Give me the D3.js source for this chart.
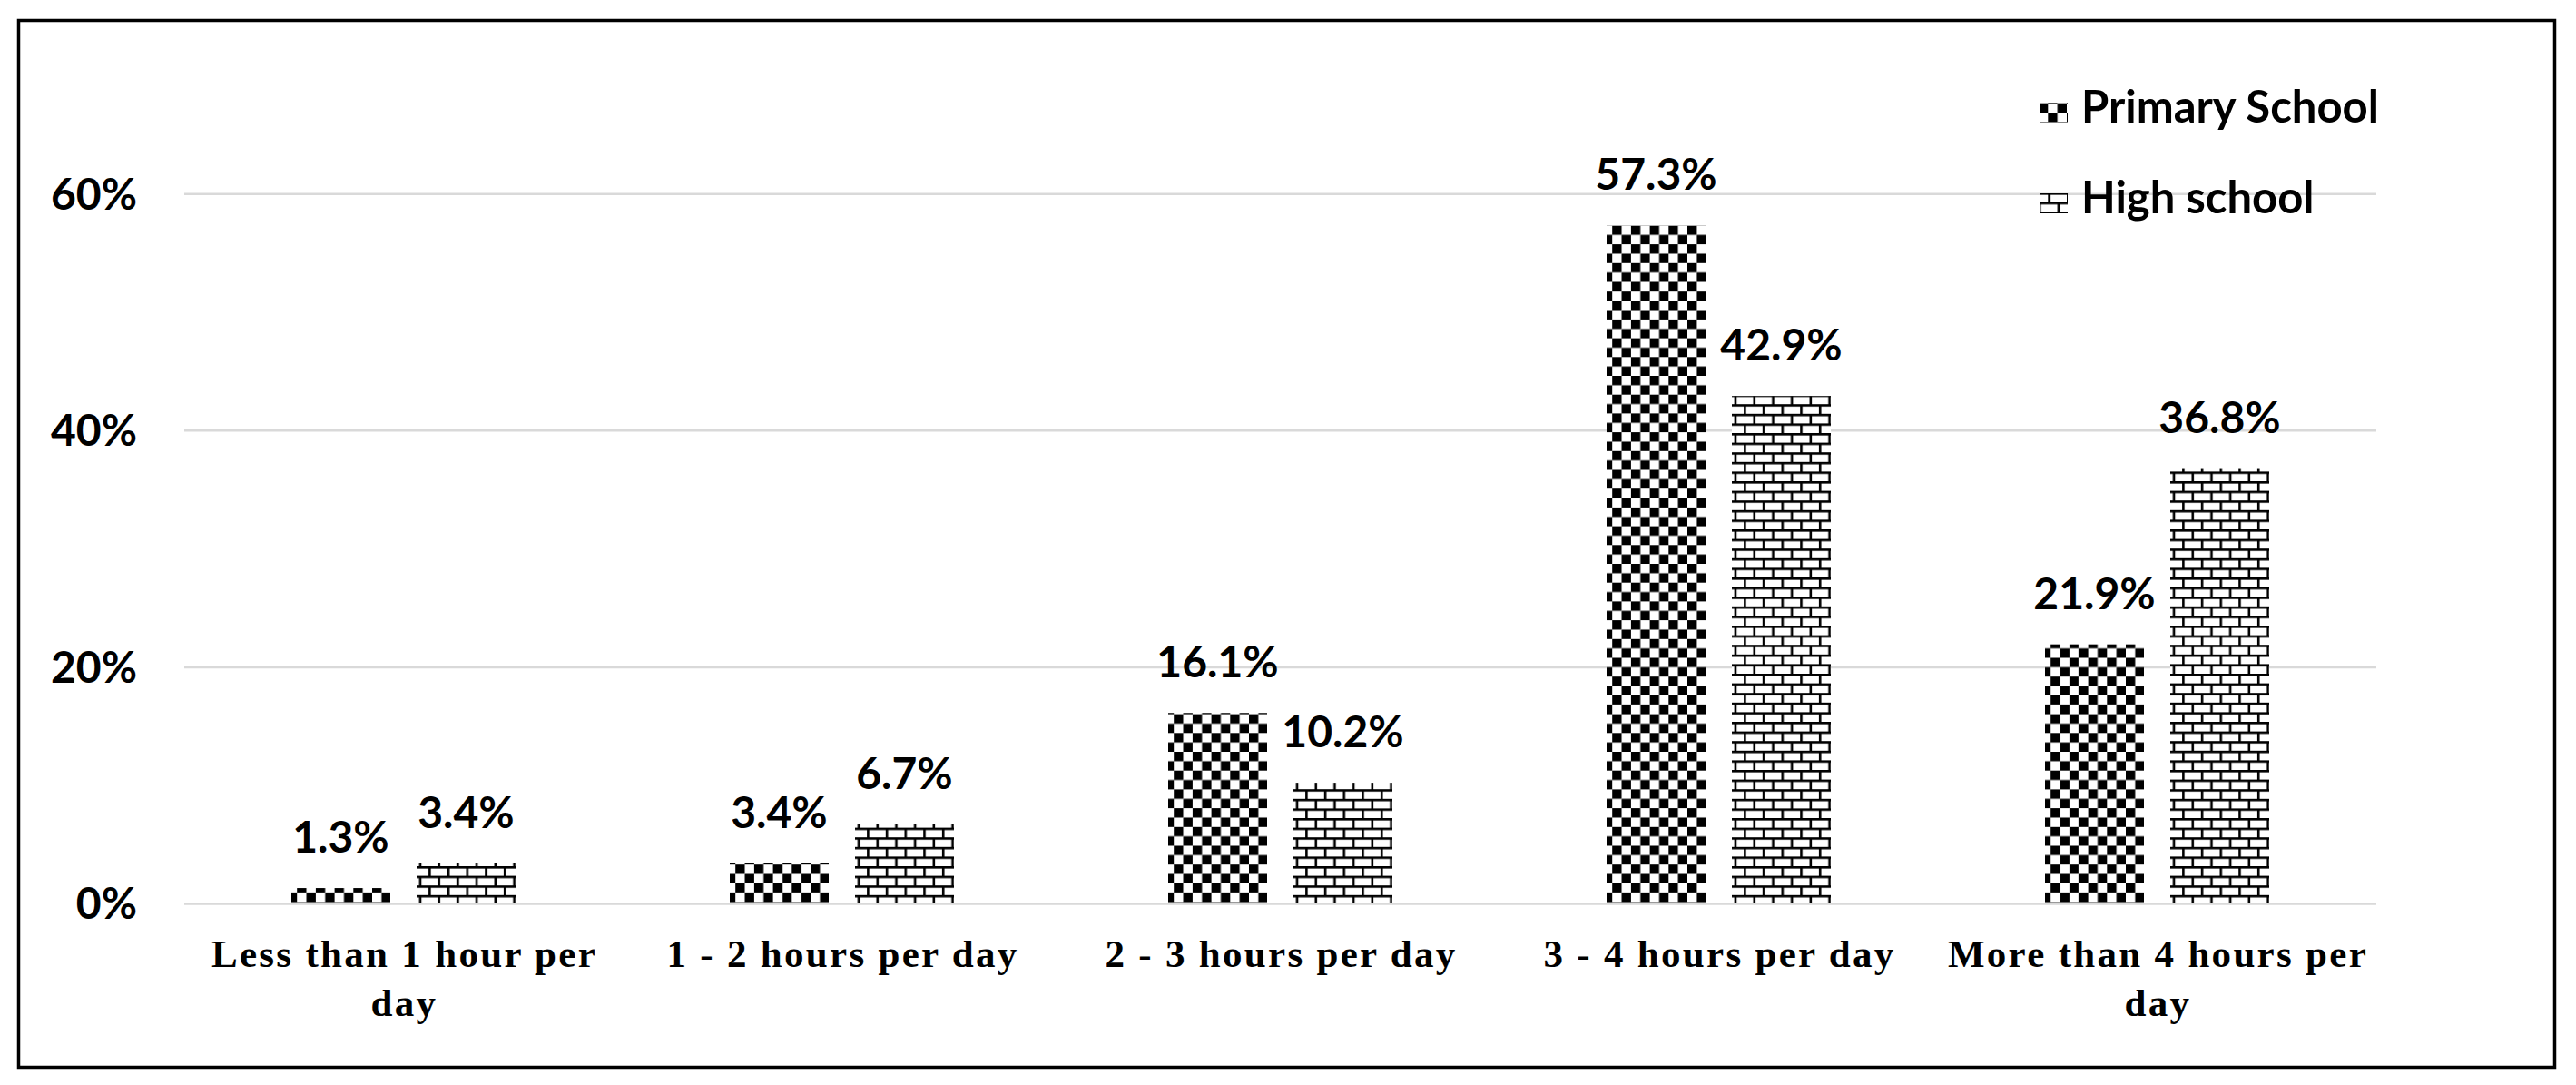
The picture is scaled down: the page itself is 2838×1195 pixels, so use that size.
<!DOCTYPE html>
<html>
<head>
<meta charset="utf-8">
<script src="https://cdn.jsdelivr.net/npm/d3@7"></script>
<style>
  html, body { margin: 0; padding: 0; background: #fff; }
  svg { display: block; }
</style>
</head>
<body>
<svg id="chart" width="2838" height="1195"></svg>
<script>
// ---- data ----
const categories = [
  ["Less than 1 hour per", "day"],
  ["1 - 2 hours per day"],
  ["2 - 3 hours per day"],
  ["3 - 4 hours per day"],
  ["More than 4 hours per", "day"]
];
const seriesNames = ["Primary School", "High school"];
const primaryValues = [1.3, 3.4, 16.1, 57.3, 21.9];
const highValues = [3.4, 6.7, 10.2, 42.9, 36.8];
const yTicks = [0, 20, 40, 60];

// ---- layout ----
const W = 2838, H = 1195;
const plot = { left: 203, right: 2618, top: 213.3, bottom: 995 };
const svg = d3.select("#chart");
svg.append("rect").attr("width", W).attr("height", H).attr("fill", "#fff");

// patterns
const defs = svg.append("defs");
const cs = 10.35;
const checker = defs.append("pattern").attr("id", "checker")
  .attr("patternUnits", "userSpaceOnUse").attr("width", cs * 2).attr("height", cs * 2);
checker.append("rect").attr("width", cs * 2).attr("height", cs * 2).attr("fill", "#fff");
checker.append("rect").attr("x", 0).attr("y", 0).attr("width", cs).attr("height", cs).attr("fill", "#000");
checker.append("rect").attr("x", cs).attr("y", cs).attr("width", cs).attr("height", cs).attr("fill", "#000");

const bw = 20.7, bh = 21.2;
const brick = defs.append("pattern").attr("id", "brick")
  .attr("patternUnits", "userSpaceOnUse").attr("width", bw).attr("height", bh);
brick.append("rect").attr("width", bw).attr("height", bh).attr("fill", "#fff");
const sw = 2.6;
function bl(x1, y1, x2, y2) {
  brick.append("line").attr("x1", x1).attr("y1", y1).attr("x2", x2).attr("y2", y2)
    .attr("stroke", "#000").attr("stroke-width", sw);
}
bl(0, 1.3, bw, 1.3);
bl(0, bh / 2 + 1.3, bw, bh / 2 + 1.3);
bl(1.3, 0, 1.3, bh / 2 + 1.3);
bl(bw / 2 + 1.3, bh / 2 + 1.3, bw / 2 + 1.3, bh);
const fills = ["url(#checker)", "url(#brick)"];

// scales
const x0 = d3.scaleBand().domain(d3.range(categories.length))
  .range([plot.left, plot.right]).paddingInner(0).paddingOuter(0);
const pairW = 247;
const x1 = d3.scaleBand().domain([0, 1])
  .range([x0.bandwidth() / 2 - pairW / 2, x0.bandwidth() / 2 + pairW / 2])
  .paddingInner(29 / 138).paddingOuter(0);
const y = d3.scaleLinear().domain([0, 60]).range([plot.bottom, plot.top]);

// gridlines
const yAxis = d3.axisLeft(y).tickValues(yTicks).tickSize(-(plot.right - plot.left))
  .tickFormat(d => d + "%").tickPadding(52);
const gy = svg.append("g").attr("transform", `translate(${plot.left},0)`).call(yAxis);
gy.select(".domain").remove();
gy.selectAll(".tick line").attr("stroke", "#d9d9d9").attr("stroke-width", 2.5);
gy.selectAll(".tick text")
  .attr("font-family", "Lato, 'Open Sans', sans-serif").attr("font-weight", "bold")
  .attr("font-size", 48).attr("fill", "#000").attr("dy", "0.35em");

// bars
const rows = categories.map((c, i) => [primaryValues[i], highValues[i]]);
const groups = svg.append("g").selectAll("g").data(rows).join("g")
  .attr("transform", (d, i) => `translate(${x0(i)},0)`);
groups.selectAll("rect").data(d => d.map((v, s) => ({ v, s }))).join("rect")
  .attr("x", d => x1(d.s)).attr("width", x1.bandwidth())
  .attr("y", d => y(d.v)).attr("height", d => y(0) - y(d.v))
  .attr("fill", d => fills[d.s]);
groups.selectAll("text").data(d => d.map((v, s) => ({ v, s }))).join("text")
  .attr("x", d => x1(d.s) + x1.bandwidth() / 2)
  .attr("y", d => y(d.v) - 39)
  .attr("text-anchor", "middle")
  .attr("font-family", "Lato, 'Open Sans', sans-serif").attr("font-weight", "bold")
  .attr("font-size", 48).attr("fill", "#000")
  .text(d => d.v.toFixed(1) + "%");

// category labels
const xl = svg.append("g");
categories.forEach((lines, i) => {
  const t = xl.append("text")
    .attr("x", x0(i) + x0.bandwidth() / 2 + 1)
    .attr("y", 1065)
    .attr("text-anchor", "middle")
    .attr("font-family", "'Liberation Serif', 'Times New Roman', serif")
    .attr("font-weight", "bold").attr("font-size", 43)
    .attr("letter-spacing", 2.3).attr("fill", "#000");
  lines.forEach((ln, k) => {
    t.append("tspan").attr("x", x0(i) + x0.bandwidth() / 2 + 1)
      .attr("dy", k === 0 ? 0 : 54).text(ln);
  });
});

// legend
const lg = svg.append("g");
seriesNames.forEach((name, s) => {
  const base = 135 + s * 100;
  lg.append("rect").attr("x", 2247).attr("y", base - 22).attr("width", 31).attr("height", 22)
    .attr("fill", fills[s]);
  lg.append("text").attr("x", 2293).attr("y", base)
    .attr("font-family", "Lato, 'Open Sans', sans-serif").attr("font-weight", "bold")
    .attr("font-size", 49).attr("fill", "#000").text(name);
});

// outer border
svg.append("rect").attr("x", 20.5).attr("y", 22.5).attr("width", 2794).attr("height", 1153)
  .attr("fill", "none").attr("stroke", "#000").attr("stroke-width", 3.5);
</script>
</body>
</html>
